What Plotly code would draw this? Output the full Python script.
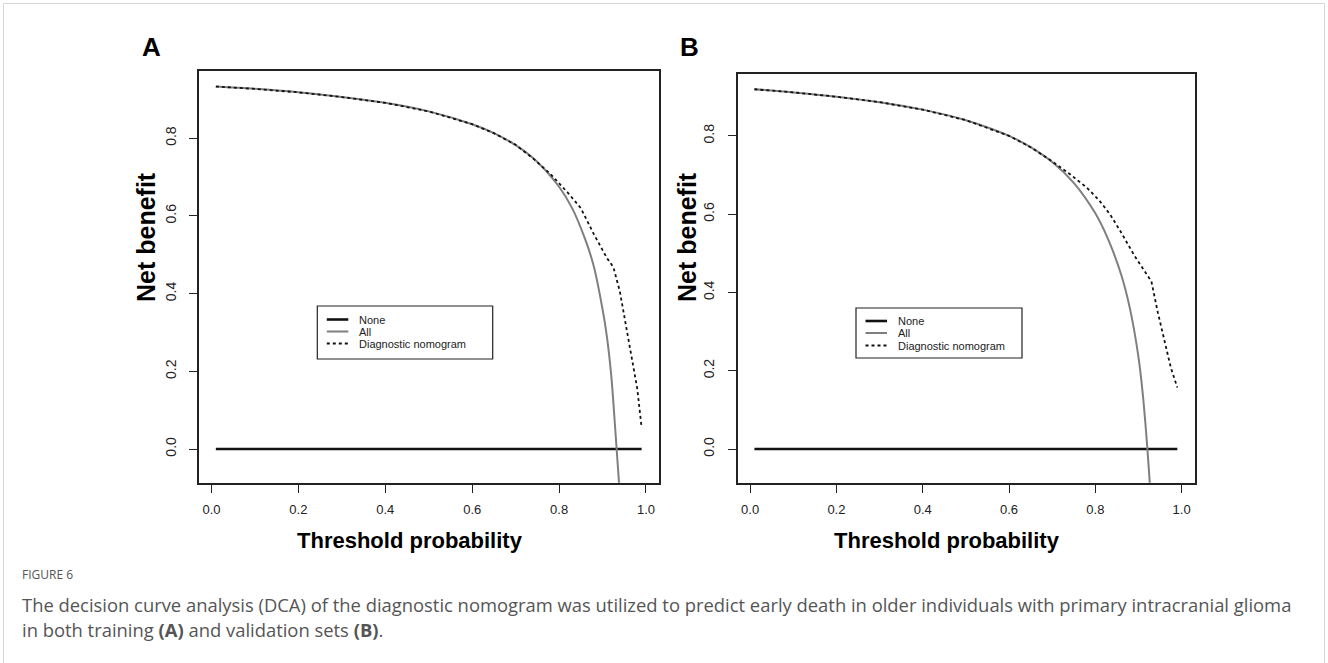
import plotly.graph_objects as go

W, H = 1328, 663

# ---------------- data ----------------
tick_vals = [0.0, 0.2, 0.4, 0.6, 0.8, 1.0]
tick_text = ["0.0", "0.2", "0.4", "0.6", "0.8", "1.0"]

none_thr = [0.01, 0.99]
none_nb = [0.0, 0.0]

# Panel A (training set)
all_thr_A = [0.01, 0.1, 0.2, 0.3, 0.4, 0.5, 0.6, 0.65, 0.7, 0.75, 0.8, 0.83, 0.86,
             0.88, 0.9, 0.91, 0.92, 0.93, 0.94]
all_nb_A = [0.933, 0.927, 0.918, 0.906, 0.891, 0.869, 0.836, 0.813, 0.782, 0.739,
            0.675, 0.620, 0.540, 0.470, 0.360, 0.290, 0.190, 0.040, -0.120]
nom_thr_A = [0.01, 0.1, 0.2, 0.3, 0.4, 0.5, 0.6, 0.65, 0.7, 0.74, 0.78, 0.82, 0.85,
             0.88, 0.91, 0.925, 0.94, 0.95, 0.96, 0.97, 0.98, 0.99]
nom_nb_A = [0.933, 0.927, 0.918, 0.906, 0.891, 0.869, 0.836, 0.813, 0.783, 0.748,
            0.708, 0.660, 0.620, 0.553, 0.492, 0.468, 0.405, 0.340, 0.278, 0.218,
            0.155, 0.055]

# Panel B (validation set)
all_thr_B = [0.01, 0.1, 0.2, 0.3, 0.4, 0.5, 0.6, 0.65, 0.7, 0.75, 0.8, 0.83, 0.86,
             0.88, 0.9, 0.91, 0.92, 0.93]
all_nb_B = [0.919, 0.911, 0.900, 0.886, 0.867, 0.840, 0.800, 0.771, 0.733, 0.680,
            0.602, 0.535, 0.445, 0.360, 0.235, 0.140, 0.010, -0.150]
nom_thr_B = [0.01, 0.1, 0.2, 0.3, 0.4, 0.5, 0.6, 0.65, 0.7, 0.74, 0.78, 0.81, 0.835,
             0.86, 0.89, 0.92, 0.93, 0.945, 0.96, 0.975, 0.99]
nom_nb_B = [0.919, 0.911, 0.900, 0.886, 0.867, 0.840, 0.800, 0.771, 0.735, 0.703,
            0.668, 0.634, 0.598, 0.553, 0.495, 0.445, 0.428, 0.348, 0.275, 0.208,
            0.157]

legend_labels = ["None", "All", "Diagnostic nomogram"]
x_title = "Threshold probability"
y_title = "Net benefit"
caption_head = "FIGURE 6"
caption_1 = ("The decision curve analysis (DCA) of the diagnostic nomogram was utilized to "
             "predict early death in older individuals with primary intracranial glioma")
caption_2 = "in both training <b>(A)</b> and validation sets <b>(B)</b>."

# ---------------- styles ----------------
BLACK = "#111111"
GRAY = "#7f7f7f"
AX = "#222222"
FONT = "Liberation Sans, Arial, sans-serif"
sty_none = dict(color=BLACK, width=2.6)
sty_all = dict(color=GRAY, width=2)
sty_nom = dict(color=BLACK, width=1.8, dash="3px,3px")


def px(x):
    return x / W


def py(y):
    return 1 - y / H


fig = go.Figure()

panels = [
    dict(xa="x", ya="y", all_t=all_thr_A, all_v=all_nb_A, nom_t=nom_thr_A, nom_v=nom_nb_A),
    dict(xa="x2", ya="y2", all_t=all_thr_B, all_v=all_nb_B, nom_t=nom_thr_B, nom_v=nom_nb_B),
]
for p in panels:
    fig.add_trace(go.Scatter(x=none_thr, y=none_nb, mode="lines", line=sty_none,
                             xaxis=p["xa"], yaxis=p["ya"], showlegend=False, name="None"))
    fig.add_trace(go.Scatter(x=p["all_t"], y=p["all_v"], mode="lines", line=sty_all,
                             line_shape="spline",
                             xaxis=p["xa"], yaxis=p["ya"], showlegend=False, name="All"))
    fig.add_trace(go.Scatter(x=p["nom_t"], y=p["nom_v"], mode="lines", line=sty_nom,
                             xaxis=p["xa"], yaxis=p["ya"], showlegend=False,
                             name="Diagnostic nomogram"))

axis_common = dict(showline=True, mirror=True, linecolor=AX, linewidth=1.5,
                   ticks="outside", ticklen=8, tickwidth=1.2, tickcolor=AX,
                   showgrid=False, zeroline=False, tickvals=tick_vals)

fig.update_layout(
    width=W, height=H, margin=dict(l=0, r=0, t=0, b=0),
    paper_bgcolor="white", plot_bgcolor="white", showlegend=False,
    xaxis=dict(axis_common, domain=[px(198.9), px(659)], range=[-0.029, 1.030],
               ticktext=tick_text, tickfont=dict(family=FONT, size=13, color=AX),
               ticklabelstandoff=6, anchor="y"),
    yaxis=dict(axis_common, domain=[py(482.8), py(70.6)], range=[-0.087, 0.974],
               tickvals=[0.0, 0.2, 0.4, 0.6, 0.8], ticktext=tick_text[:5],
               tickangle=-90, tickfont=dict(family=FONT, size=14, color=AX),
               ticklabelstandoff=8, anchor="x"),
    xaxis2=dict(axis_common, domain=[px(737.6), px(1195)], range=[-0.029, 1.031],
                ticktext=tick_text, tickfont=dict(family=FONT, size=13, color=AX),
                ticklabelstandoff=6, anchor="y2"),
    yaxis2=dict(axis_common, domain=[py(482.8), py(74)], range=[-0.0863, 0.958],
                tickvals=[0.0, 0.2, 0.4, 0.6, 0.8], ticktext=tick_text[:5],
                tickangle=-90, tickfont=dict(family=FONT, size=14, color=AX),
                ticklabelstandoff=8, anchor="x2"),
)

ann = []
shapes = []

# panel letters and axis titles
for letter, lx, xt_x, yt_x in [("A", 151, 410, 146), ("B", 689.5, 946.5, 687)]:
    ann.append(dict(text="<b>%s</b>" % letter, x=px(lx), y=py(47.5), xref="paper", yref="paper",
                    showarrow=False, xanchor="center", yanchor="middle",
                    font=dict(family=FONT, size=26, color="black")))
    ann.append(dict(text="<b>%s</b>" % x_title, x=px(xt_x), y=py(540), xref="paper", yref="paper",
                    showarrow=False, xanchor="center", yanchor="middle",
                    font=dict(family=FONT, size=22, color="black")))
    ann.append(dict(text="<b>%s</b>" % y_title, x=px(yt_x), y=py(237), xref="paper", yref="paper",
                    showarrow=False, xanchor="center", yanchor="middle", textangle=-90,
                    font=dict(family=FONT, size=25, color="black")))

# legends (box, key lines, labels)
legend_styles = [sty_none, sty_all, sty_nom]
for bx0, bx1, by0, by1, rows in [(317.3, 492.7, 306, 359, [319.5, 331.5, 343.5]),
                                 (856, 1022, 308, 358, [321, 333, 345.5])]:
    shapes.append(dict(type="rect", xref="paper", yref="paper",
                       x0=px(bx0), x1=px(bx1), y0=py(by1), y1=py(by0),
                       line=dict(color=AX, width=1.2), fillcolor="white"))
    for lab, sty, ry in zip(legend_labels, legend_styles, rows):
        shapes.append(dict(type="line", xref="paper", yref="paper",
                           x0=px(bx0 + 9.5), x1=px(bx0 + 31), y0=py(ry), y1=py(ry),
                           line=sty))
        ann.append(dict(text=lab, x=px(bx0 + 40), y=py(ry), xref="paper", yref="paper",
                        showarrow=False, xanchor="left", yanchor="middle",
                        font=dict(family=FONT, size=11, color=AX)))

# caption
CAP = "Open Sans, Noto Sans, sans-serif"
ann.append(dict(text=caption_head, x=px(20), y=py(574), xref="paper", yref="paper",
                showarrow=False, xanchor="left", yanchor="middle",
                font=dict(family=CAP, size=12, color="#555555")))
ann.append(dict(text=caption_1, x=px(20), y=py(604), xref="paper", yref="paper",
                showarrow=False, xanchor="left", yanchor="middle",
                font=dict(family=CAP, size=18.4, color="#555555")))
ann.append(dict(text=caption_2, x=px(20), y=py(629), xref="paper", yref="paper",
                showarrow=False, xanchor="left", yanchor="middle",
                font=dict(family=CAP, size=18.4, color="#555555")))

# outer page frame
shapes.append(dict(type="rect", xref="paper", yref="paper", layer="below",
                   x0=px(3.5), x1=px(1324.5), y0=py(700), y1=py(3.5),
                   line=dict(color="#d6d6d6", width=1)))

fig.update_layout(annotations=ann, shapes=shapes)
fig.write_html("out.html")
